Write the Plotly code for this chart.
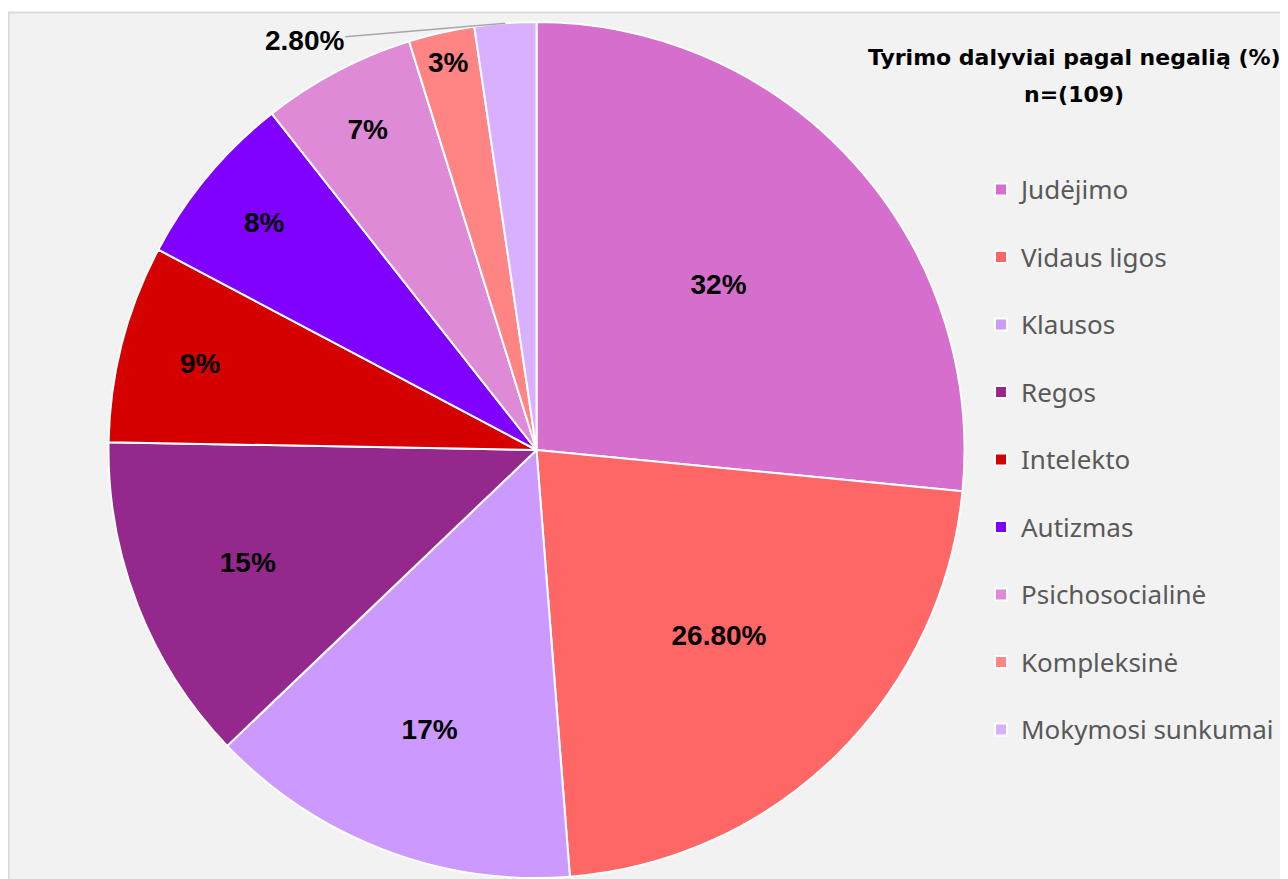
import math
import plotly.graph_objects as go

categories = ["Judėjimo", "Vidaus ligos", "Klausos", "Regos", "Intelekto",
              "Autizmas", "Psichosocialinė", "Kompleksinė", "Mokymosi sunkumai"]
values = [32, 26.8, 17, 15, 9, 8, 7, 3, 2.8]
value_labels = ["32%", "26.80%", "17%", "15%", "9%", "8%", "7%", "3%", "2.80%"]
colors = ["#D56ECC", "#FF6666", "#CC99FF", "#94288C", "#D50000",
          "#7F00FF", "#DE8AD6", "#FF8585", "#D8B0FF"]

# page body adds an 8px margin, so the figure fills the rest of the window
W, H = 1280, 871
LEG_BASE = 24.8
LEG_TEXT = 26

# pie placement (figure pixels)
PX0, PX1, PY0, PY1 = 100, 957, 14, 870

legend_labels = [f"<span style='font-size:{LEG_TEXT}px'>{c}</span><br> " for c in categories]
# last (tiny) slice gets an external callout label with a leader line
positions = ["inside"] * (len(values) - 1) + ["none"]
label_font = dict(family="Liberation Sans, Arial", size=28, color="black", weight="bold")

fig = go.Figure(go.Pie(
    labels=legend_labels,
    values=values,
    text=value_labels,
    textinfo="text",
    textposition=positions,
    insidetextorientation="horizontal",
    textfont=label_font,
    marker=dict(colors=colors, line=dict(color="white", width=2)),
    sort=False,
    direction="clockwise",
    rotation=0,
    automargin=False,
    domain=dict(x=[PX0 / W, PX1 / W], y=[1 - PY1 / H, 1 - PY0 / H]),
    hovertext=categories,
    hoverinfo="text+percent",
))

# anchor of the callout: outer edge of the last slice at its mid-angle (from the data)
total = sum(values)
mid_frac = (total - values[-1] / 2) / total
theta = 2 * math.pi * mid_frac
cx, cy = (PX0 + PX1) / 2, (PY0 + PY1) / 2
r = min(PX1 - PX0, PY1 - PY0) / 2
edge_x = cx + r * math.sin(theta)
edge_y = cy - r * math.cos(theta)

fig.update_layout(
    width=W, height=H,
    margin=dict(l=0, r=0, t=0, b=0, pad=0, autoexpand=False),
    paper_bgcolor="white",
    showlegend=True,
    legend=dict(
        x=973 / W, y=1 - 159 / H, xanchor="left", yanchor="top",
        font=dict(family="Noto Sans, Open Sans", size=LEG_BASE, color="#595959"),
        bgcolor="rgba(0,0,0,0)",
        valign="top",
    ),
    shapes=[dict(type="rect", xref="paper", yref="paper",
                 x0=0.5 / W, x1=1.02, y0=-0.02, y1=1 - 4.5 / H,
                 fillcolor="#F2F2F2", line=dict(color="#D9D9D9", width=2), layer="below")],
    annotations=[
        dict(text="<b>Tyrimo dalyviai pagal negalią (%)</b>",
             x=1066 / W, y=1 - 49 / H, xref="paper", yref="paper",
             xanchor="center", yanchor="middle", showarrow=False,
             font=dict(family="DejaVu Sans", size=22, color="black")),
        dict(text="<b>n=(109)</b>",
             x=1066 / W, y=1 - 87 / H, xref="paper", yref="paper",
             xanchor="center", yanchor="middle", showarrow=False,
             font=dict(family="DejaVu Sans", size=22, color="black")),
        dict(text="<b>" + value_labels[-1] + "</b>",
             x=edge_x / W, y=1 - edge_y / H, xref="paper", yref="paper",
             ax=-201, ay=17, showarrow=True, arrowhead=0, arrowwidth=1.5,
             arrowcolor="#A6A6A6", standoff=0, startstandoff=0,
             font=dict(family="Liberation Sans, Arial", size=28, color="black")),
    ],
)

fig.write_html("out.html")
